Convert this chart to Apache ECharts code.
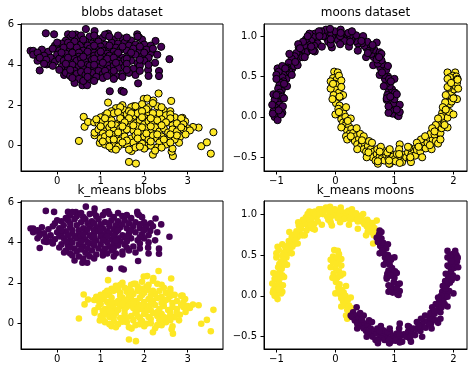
<!DOCTYPE html>
<html><head><meta charset="utf-8">
<script src="https://cdn.jsdelivr.net/npm/echarts@6/dist/echarts.min.js"></script>
<style>html,body{margin:0;padding:0;background:#fff}#c{width:474px;height:373px}</style>
</head><body><div id="c"></div>
<script>
const titles = ['blobs dataset', 'moons dataset', 'k_means blobs', 'k_means moons'];
const blobXTicks = [0, 1, 2, 3];
const blobYTicks = [0, 2, 4, 6];
const moonXTicks = [-1, 0, 1, 2];
const moonYTicks = [-0.5, 0.0, 0.5, 1.0];

// blobs dataset, cluster 0 (purple) — k_means gives the same split
const blobPurple = [
[-0.61,4.69],[-0.55,4.69],[-0.41,4.48],[-0.40,3.72],[-0.26,5.56],[-0.07,5.51],[-0.24,4.02],[-0.15,4.05],
[0.16,3.50],[0.25,5.51],[0.43,5.50],[0.66,5.77],[0.86,5.67],[1.17,5.54],[0.58,2.99],[0.69,2.99],
[1.21,2.69],[1.48,2.71],[1.53,2.66],[1.86,3.08],[1.84,5.51],[2.26,5.18],[2.39,4.89],[2.58,4.28],
[2.09,3.74],[2.10,3.45],[2.34,3.69],[2.34,3.44],[2.14,4.56],[2.02,4.89],[1.88,5.36],
[0.30,5.35],[0.45,5.30],[0.55,5.45],[0.75,5.40],[0.90,5.30],[1.05,5.35],[1.30,5.25],[1.50,5.30],[1.70,5.20],[0.20,5.20],[1.95,5.25],[1.85,5.40],[1.10,5.50],
[-0.05,4.95],[0.10,5.05],[0.25,5.10],[0.40,5.15],[0.55,5.00],[0.65,5.15],[0.80,5.05],[0.95,5.15],[1.10,5.00],[1.25,5.10],[1.40,5.05],[1.55,5.10],[1.65,4.95],[1.80,5.00],[2.00,5.00],[2.15,4.95],[0.70,4.95],[1.00,4.90],[1.35,4.85],
[-0.35,4.75],[-0.20,4.65],[-0.10,4.80],[0.05,4.70],[0.15,4.85],[0.30,4.75],[0.45,4.85],[0.60,4.70],[0.75,4.80],[0.90,4.75],[1.05,4.70],[1.20,4.80],[1.30,4.65],[1.45,4.75],[1.60,4.70],[1.75,4.80],[1.90,4.70],[2.05,4.75],[2.20,4.80],[0.50,4.60],[0.85,4.60],[1.15,4.55],
[-0.55,4.50],[-0.30,4.45],[-0.15,4.35],[0.00,4.50],[0.10,4.40],[0.20,4.55],[0.35,4.45],[0.50,4.40],[0.65,4.50],[0.75,4.35],[0.85,4.45],[0.95,4.55],[1.05,4.40],[1.20,4.45],[1.35,4.50],[1.50,4.35],[1.65,4.45],[1.80,4.50],[1.95,4.40],[2.10,4.35],[0.40,4.30],[1.00,4.30],[1.40,4.20],
[-0.45,4.20],[-0.25,4.25],[-0.05,4.15],[0.05,4.30],[0.15,4.20],[0.30,4.10],[0.45,4.20],[0.55,4.30],[0.65,4.15],[0.80,4.25],[0.90,4.10],[1.10,4.20],[1.25,4.15],[1.45,4.05],[1.55,4.25],[1.70,4.20],[1.85,4.10],[2.00,4.20],[2.25,4.10],[0.70,4.00],[1.15,4.00],
[-0.10,3.95],[0.10,3.90],[0.25,3.85],[0.35,4.00],[0.50,3.90],[0.60,3.80],[0.75,3.95],[0.85,3.85],[1.00,3.90],[1.20,3.80],[1.30,3.95],[1.40,3.85],[1.55,3.90],[1.75,3.80],[1.90,3.95],[0.95,3.70],[0.40,3.70],
[0.20,3.60],[0.30,3.45],[0.45,3.55],[0.55,3.65],[0.65,3.50],[0.80,3.60],[0.90,3.40],[1.05,3.55],[1.25,3.60],[1.35,3.45],[1.50,3.55],[1.65,3.60],[1.80,3.50],[0.50,3.30],[0.60,3.20],[0.75,3.30],[0.40,3.10],[1.05,3.35],[1.30,3.30],
[0.60,5.25],[0.85,5.45],[1.20,5.40],[1.40,5.45],[1.60,5.35],[0.35,5.50],
[0.30,4.95],[0.85,4.95],[1.20,4.95],[1.50,4.90],[1.90,4.90],[0.00,5.10],
[-0.45,4.60],[0.10,4.60],[0.35,4.60],[0.70,4.65],[1.00,4.65],[1.40,4.60],[1.70,4.60],[2.00,4.60],
[-0.40,4.35],[0.25,4.35],[0.60,4.40],[0.85,4.30],[1.15,4.30],[1.30,4.35],[1.60,4.30],[1.90,4.25],[2.30,4.50],
[-0.30,4.05],[0.20,4.05],[0.55,4.05],[0.85,4.00],[1.05,4.10],[1.35,4.10],[1.60,4.05],[2.10,4.00],
[0.05,3.75],[0.30,3.75],[0.70,3.70],[1.10,3.70],[1.30,3.70],[1.60,3.75],[1.90,3.70],
[0.35,3.35],[0.70,3.40],[0.85,3.20],[1.15,3.45],[1.50,3.40]
];
// blobs dataset, cluster 1 (yellow)
const blobYellow = [
[0.50,0.23],[0.61,1.42],[0.63,0.93],[0.71,1.17],[1.17,2.13],[1.65,-0.81],[1.81,-0.89],[2.20,-0.45],
[2.66,-0.52],[2.63,-0.30],[2.33,2.58],[2.62,2.21],[3.31,-0.03],[3.44,0.16],[3.53,-0.40],[3.59,0.66],
[3.25,0.89],[3.12,0.92],[3.00,0.85],[2.88,1.37],[2.94,1.20],[2.82,0.42],[2.80,0.14],[1.99,2.31],
[2.07,2.33],[2.21,2.23],[1.76,1.95],[0.86,0.51],[0.86,0.64],[0.98,0.13],[1.25,-0.15],[1.50,0.07],
[1.71,-0.27],[2.05,-0.03],[2.42,0.10],
[1.35,1.85],[1.50,2.00],[1.55,1.75],[1.70,1.90],[1.85,1.80],[1.95,2.05],[2.10,1.90],[2.30,1.95],[2.45,1.75],[2.60,1.70],[1.25,1.70],[2.20,2.10],
[1.10,1.50],[1.20,1.40],[1.30,1.60],[1.45,1.50],[1.60,1.55],[1.75,1.45],[1.85,1.60],[2.00,1.50],[2.10,1.65],[2.25,1.45],[2.35,1.60],[2.50,1.50],[2.70,1.40],[2.85,1.35],[1.00,1.40],[1.65,1.70],[2.40,1.30],
[0.85,1.15],[0.95,1.10],[1.05,1.20],[1.15,1.05],[1.25,1.25],[1.40,1.10],[1.50,1.25],[1.60,1.05],[1.70,1.20],[1.80,1.10],[1.90,1.25],[2.00,1.05],[2.10,1.20],[2.20,1.10],[2.30,1.25],[2.45,1.05],[2.55,1.20],[2.65,1.00],[2.75,1.10],[1.35,1.00],[2.90,1.05],
[0.95,0.80],[1.10,0.70],[1.20,0.90],[1.30,0.75],[1.45,0.85],[1.55,0.65],[1.65,0.90],[1.75,0.75],[1.85,0.95],[1.95,0.70],[2.05,0.85],[2.15,0.65],[2.25,0.90],[2.35,0.70],[2.45,0.85],[2.55,0.65],[2.65,0.80],[2.75,0.70],[2.90,0.80],[3.05,0.75],[1.05,0.60],[1.60,0.80],
[1.00,0.35],[1.10,0.45],[1.20,0.30],[1.35,0.50],[1.45,0.25],[1.55,0.45],[1.70,0.35],[1.80,0.50],[1.90,0.25],[2.00,0.45],[2.10,0.30],[2.20,0.50],[2.30,0.35],[2.40,0.45],[2.50,0.25],[2.60,0.40],[2.70,0.30],[1.25,0.55],[1.75,0.15],[2.35,0.15],[2.75,0.50],
[1.10,0.05],[1.30,0.10],[1.40,-0.05],[1.60,0.05],[1.80,-0.10],[1.95,0.10],[2.15,0.00],[2.30,-0.10],[2.50,0.05],[2.65,-0.15],[1.65,-0.20],[2.00,-0.15],[2.25,-0.25],[1.20,-0.05],
[1.45,1.90],[1.80,1.95],[2.05,1.80],[2.40,1.90],
[1.15,1.60],[1.40,1.65],[1.70,1.60],[1.95,1.70],[2.20,1.60],[2.60,1.55],
[0.90,1.30],[1.10,1.35],[1.45,1.35],[1.65,1.35],[1.95,1.40],[2.15,1.35],[2.60,1.35],[2.50,1.15],[1.55,1.15],
[1.00,0.95],[1.25,1.05],[1.50,0.95],[1.75,1.00],[1.95,0.90],[2.15,0.95],[2.40,1.00],[2.85,0.90],
[1.20,0.60],[1.40,0.65],[1.85,0.65],[2.05,0.60],[2.30,0.55],[2.60,0.55],[2.95,0.55],
[1.05,0.20],[1.30,0.30],[1.60,0.25],[1.85,0.35],[2.15,0.20],[2.45,0.30],[2.60,0.15],
[1.50,0.15],[1.90,-0.05],[2.40,-0.10],[1.35,-0.20]
];

// moons dataset, upper moon (label 0, purple), split by the k_means label
const moonUpperKY = [ // k_means: yellow cluster
[0.65,0.74],[0.69,0.79],[0.61,0.78],[0.66,0.83],[0.70,0.92],
[0.58,0.82],[0.62,0.87],[0.53,0.85],[0.57,0.90],[0.49,0.88],[0.54,0.93],[0.45,0.91],
[0.44,0.95],[0.38,0.91],[0.40,0.98],[0.34,0.94],[0.30,0.99],[0.35,1.01],[0.27,0.95],
[0.24,1.00],[0.20,0.96],[0.17,1.02],[0.13,0.98],[0.22,1.04],[0.10,1.01],[0.15,0.94],
[0.06,1.03],[0.02,0.98],[-0.03,1.04],[0.04,0.95],[-0.06,0.99],[0.08,1.00],[-0.01,1.06],[-0.06,0.86],
[-0.10,1.02],[-0.14,0.97],[-0.18,1.05],[-0.21,1.00],[-0.16,1.08],[-0.24,1.06],[-0.12,0.93],
[-0.28,1.01],[-0.32,0.96],[-0.35,1.03],[-0.30,0.91],[-0.38,0.99],[-0.41,0.94],[-0.36,0.88],
[-0.44,1.03],[-0.47,0.90],[-0.50,0.96],[-0.46,0.84],[-0.53,0.88],[-0.55,0.93],[-0.49,0.80],[-0.40,0.83],[-0.35,0.81],
[-0.58,0.82],[-0.62,0.86],[-0.60,0.76],[-0.66,0.79],[-0.64,0.72],[-0.69,0.75],[-0.56,0.74],
[-0.71,0.68],[-0.74,0.72],[-0.76,0.64],[-0.79,0.67],[-0.73,0.60],[-0.81,0.61],[-0.70,0.63],
[-0.84,0.56],[-0.80,0.52],[-0.87,0.53],[-0.83,0.47],[-0.90,0.49],[-0.78,0.56],[-0.88,0.44],[-0.98,0.60],[-0.96,0.56],[-1.00,0.52],[-0.83,0.60],
[-0.92,0.42],[-0.89,0.37],[-0.95,0.39],[-0.91,0.33],[-0.97,0.35],[-0.86,0.40],[-0.94,0.30],
[-0.96,0.27],[-1.00,0.24],[-0.93,0.22],[-0.98,0.19],[-1.03,0.21],[-0.90,0.25],[-0.95,0.15],
[-1.02,0.12],[-0.97,0.08],[-1.05,0.07],[-0.99,0.02],[-1.03,0.00],[-0.98,-0.04],[-0.93,0.10],[-0.90,0.05],
[0.64,0.64],[0.63,0.89],[0.52,0.74],[0.55,0.79],[0.47,1.00],[0.38,0.82],[0.44,0.94],[0.28,1.06],[0.23,0.87],[0.25,0.93],
[0.09,1.08],[0.08,0.90],[0.09,1.04],[-0.09,1.09],[-0.08,0.90],[-0.08,0.96],[-0.28,1.06],[-0.23,0.87],[-0.27,1.00],
[-0.47,1.00],[-0.38,0.82],[-0.41,0.87],[-0.63,0.90],[-0.52,0.74],[-0.60,0.85],[-0.78,0.78],[-0.64,0.64],[-0.68,0.68],
[-0.90,0.63],[-0.74,0.52],[-0.85,0.60],[-1.00,0.47],[-0.82,0.38],[-0.87,0.41],[-1.05,0.28],[-0.87,0.23],[-1.00,0.27],
[-1.07,0.15],[-0.89,0.13],[-1.06,0.04],[-0.92,0.03],[-0.96,0.08]
];
const moonUpperKP = [ // k_means: purple cluster
[1.05,0.02],[0.97,0.04],[1.02,0.09],[0.95,0.12],[1.06,0.14],[0.99,0.17],[0.93,0.08],[1.07,0.01],
[1.00,0.22],[0.93,0.25],[0.98,0.29],[0.90,0.31],[0.96,0.34],[0.88,0.27],[1.01,0.30],[0.87,0.21],
[0.92,0.38],[0.86,0.41],[0.94,0.44],[0.84,0.47],[0.89,0.50],[0.82,0.52],[0.91,0.47],
[0.80,0.56],[0.85,0.60],[0.76,0.61],[0.81,0.65],[0.72,0.66],[0.78,0.70],[0.86,0.58],
[0.70,0.71],[0.74,0.75],[0.75,0.80],
[1.09,0.06],[0.90,0.05],[1.09,0.15],[0.90,0.13],[1.04,0.28],[0.87,0.23],[1.00,0.47],[0.82,0.38],
[0.89,0.63],[0.75,0.52],[1.04,0.09],[0.93,0.25],[0.94,0.44],[0.79,0.55],[0.78,0.78],[0.74,0.74]
];
// moons dataset, lower moon (label 1, yellow), split by the k_means label
const moonLowerKY = [ // k_means: yellow cluster
[-0.02,0.56],[0.04,0.55],[-0.04,0.48],[0.02,0.46],[0.06,0.51],[-0.01,0.41],[0.05,0.40],
[0.00,0.34],[0.06,0.30],[-0.03,0.27],[0.03,0.22],[0.09,0.25],[0.01,0.17],[0.07,0.14],
[0.05,0.10],[0.11,0.07],[0.08,0.02],[0.14,0.04],[0.10,-0.03],[0.17,0.00],[0.13,-0.07],
[0.19,-0.06],[0.16,-0.11],[0.23,-0.12],[0.20,-0.17],[0.27,-0.15],[0.24,-0.21],[0.18,-0.24],
[-0.08,0.44],[0.10,0.45],[-0.08,0.35],[0.10,0.37],[-0.05,0.22],[0.13,0.27],[0.00,0.03],[0.18,0.12],
[0.10,-0.13],[0.26,-0.02],[0.20,-0.28],[-0.04,0.41],[0.07,0.25],[0.06,0.06],[0.21,-0.05]
];
const moonLowerKP = [ // k_means: purple cluster
[0.30,-0.20],[0.28,-0.26],[0.35,-0.24],[0.33,-0.30],[0.40,-0.27],[0.37,-0.34],[0.42,-0.21],
[0.45,-0.31],[0.43,-0.37],[0.50,-0.34],[0.48,-0.40],[0.55,-0.36],[0.52,-0.43],[0.57,-0.30],
[0.60,-0.40],[0.58,-0.47],[0.65,-0.43],[0.63,-0.50],[0.70,-0.46],[0.68,-0.54],[0.71,-0.40],
[0.75,-0.49],[0.72,-0.58],[0.79,-0.51],[0.78,-0.44],[0.83,-0.54],[0.86,-0.47],[0.81,-0.42],
[0.90,-0.52],[0.93,-0.45],[0.96,-0.55],[0.98,-0.49],[0.92,-0.58],[1.01,-0.52],[0.88,-0.44],
[1.04,-0.46],[1.07,-0.53],[1.10,-0.49],[1.09,-0.34],[1.13,-0.56],[1.16,-0.47],[1.02,-0.55],
[1.20,-0.50],[1.23,-0.44],[1.26,-0.52],[1.29,-0.46],[1.32,-0.40],[1.25,-0.38],[1.35,-0.48],
[1.38,-0.41],[1.41,-0.35],[1.44,-0.43],[1.47,-0.37],[1.50,-0.31],[1.45,-0.28],[1.53,-0.39],
[1.56,-0.32],[1.59,-0.26],[1.62,-0.34],[1.65,-0.28],[1.61,-0.21],[1.68,-0.22],[1.70,-0.30],[1.74,-0.33],
[1.72,-0.18],[1.75,-0.12],[1.78,-0.20],[1.80,-0.14],[1.76,-0.07],[1.83,-0.09],[1.70,-0.10],
[1.84,-0.03],[1.87,0.03],[1.81,0.05],[1.90,-0.01],[1.86,0.09],[1.93,0.06],[1.79,0.00],
[1.89,0.13],[1.94,0.16],[1.91,0.21],[1.97,0.19],[1.86,0.18],[1.99,0.25],[1.93,0.27],
[1.96,0.31],[2.01,0.34],[1.92,0.36],[1.98,0.40],[2.04,0.38],[1.95,0.44],[2.02,0.46],
[1.90,0.55],[2.03,0.55],[2.06,0.42],[1.99,0.51],[2.05,0.50],[1.94,0.49],[2.07,0.47],
[0.36,-0.14],[0.26,-0.24],[0.37,-0.40],[0.48,-0.24],[0.45,-0.29],[0.53,-0.50],[0.62,-0.32],[0.56,-0.44],
[0.72,-0.55],[0.77,-0.37],[0.75,-0.43],[0.91,-0.58],[0.92,-0.40],[0.91,-0.54],[1.09,-0.57],[1.08,-0.40],[1.08,-0.46],
[1.28,-0.56],[1.23,-0.37],[1.27,-0.50],[1.47,-0.50],[1.38,-0.32],[1.41,-0.37],[1.63,-0.40],[1.52,-0.24],[1.60,-0.35],
[1.78,-0.28],[1.64,-0.14],[1.68,-0.18],[1.90,-0.13],[1.74,-0.02],[1.85,-0.10],[2.00,0.03],[1.82,0.12],[1.87,0.09],
[2.06,0.22],[1.87,0.27],[2.00,0.23],[2.08,0.35],[1.90,0.37],[2.07,0.46],[1.90,0.47],[1.96,0.42]
];

const PURPLE = '#440154', YELLOW = '#fde725';
const FONT = 'DejaVu Sans';
const fmtInt = v => (v < 0 ? '\u2212' : '') + Math.abs(v);
const fmtDec = v => (v < 0 ? '\u2212' : '') + Math.abs(v).toFixed(1);

const grids = [
  {left: 21, top: 24, width: 202, height: 147},
  {left: 264, top: 24, width: 203, height: 147},
  {left: 21, top: 201, width: 202, height: 148},
  {left: 264, top: 201, width: 203, height: 148}
];
const ranges = [
  {x: [-0.83, 3.81], y: [-1.26, 6.02], xt: blobXTicks, yt: blobYTicks, xf: fmtInt, yf: fmtInt},
  {x: [-1.21, 2.23], y: [-0.67, 1.15], xt: moonXTicks, yt: moonYTicks, xf: fmtInt, yf: fmtDec},
  {x: [-0.83, 3.81], y: [-1.28, 6.05], xt: blobXTicks, yt: blobYTicks, xf: fmtInt, yf: fmtInt},
  {x: [-1.21, 2.23], y: [-0.65, 1.16], xt: moonXTicks, yt: moonYTicks, xf: fmtInt, yf: fmtDec}
];
function axis(i, dim) {
  const r = ranges[i];
  const ticks = dim === 'x' ? r.xt : r.yt;
  return {
    type: 'value', gridIndex: i, min: r[dim][0], max: r[dim][1],
    axisLine: {show: true, onZero: false, lineStyle: {color: '#000', width: 1}},
    axisTick: {show: true, inside: false, length: 3.5, customValues: ticks, lineStyle: {color: '#000', width: 1}},
    axisLabel: {show: true, customValues: ticks, formatter: dim === 'x' ? r.xf : r.yf, fontSize: 10, fontFamily: FONT, color: '#000', margin: dim === 'x' ? 5 : 7},
    splitLine: {show: false}
  };
}
function scatter(i, data, color, edge) {
  return {
    type: 'scatter', xAxisIndex: i, yAxisIndex: i, data: data,
    symbolSize: edge ? 7.2 : 6.6,
    itemStyle: edge ? {color: color, borderColor: '#000', borderWidth: 1, opacity: 1} : {color: color, opacity: 1},
    emphasis: {disabled: true}, silent: true
  };
}
const titleY = [12.5, 12.5, 190.5, 190.5];
const chart = echarts.init(document.getElementById('c'), null, {renderer: 'canvas'});
chart.setOption({
  animation: false,
  backgroundColor: '#fff',
  grid: grids.map(g => Object.assign({show: true, borderColor: '#000', borderWidth: 1, backgroundColor: 'transparent', containLabel: false}, g)),
  xAxis: [0, 1, 2, 3].map(i => axis(i, 'x')),
  yAxis: [0, 1, 2, 3].map(i => axis(i, 'y')),
  graphic: titles.map((t, i) => ({
    type: 'text', x: grids[i].left + grids[i].width / 2, y: titleY[i], silent: true,
    style: {text: t, font: '12px "' + FONT + '"', fill: '#000', textAlign: 'center', textVerticalAlign: 'middle'}
  })),
  series: [
    scatter(0, blobPurple, PURPLE, true),
    scatter(0, blobYellow, YELLOW, true),
    scatter(1, moonUpperKY.concat(moonUpperKP), PURPLE, true),
    scatter(1, moonLowerKY.concat(moonLowerKP), YELLOW, true),
    scatter(2, blobPurple, PURPLE, false),
    scatter(2, blobYellow, YELLOW, false),
    scatter(3, moonUpperKY.concat(moonLowerKY), YELLOW, false),
    scatter(3, moonUpperKP.concat(moonLowerKP), PURPLE, false)
  ]
});
</script></body></html>
